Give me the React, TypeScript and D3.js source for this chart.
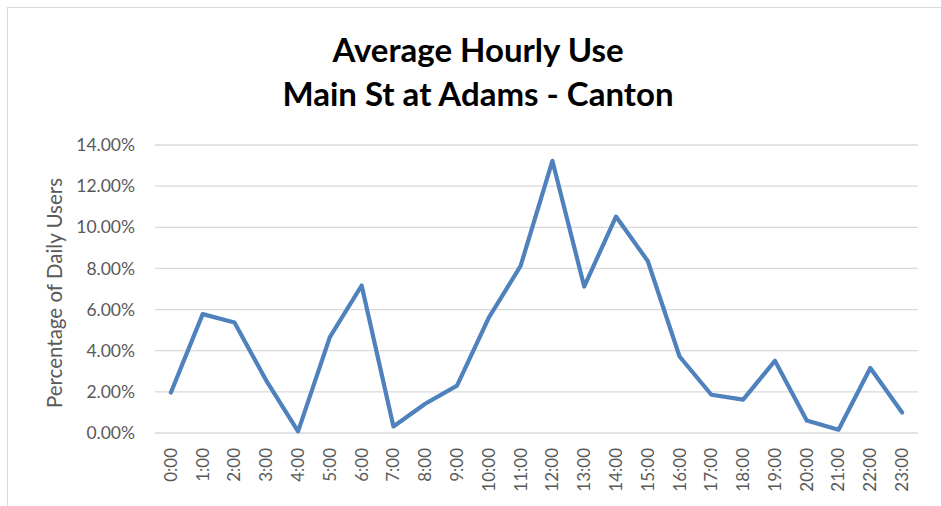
import { useEffect, useRef } from "react";
import * as d3 from "d3";

// hourly share of daily users
const hours = [
  "0:00", "1:00", "2:00", "3:00", "4:00", "5:00", "6:00", "7:00",
  "8:00", "9:00", "10:00", "11:00", "12:00", "13:00", "14:00", "15:00",
  "16:00", "17:00", "18:00", "19:00", "20:00", "21:00", "22:00", "23:00",
];
const share = [
  1.97, 5.78, 5.37, 2.55, 0.08, 4.66, 7.17, 0.32,
  1.42, 2.3, 5.61, 8.12, 13.23, 7.12, 10.52, 8.36,
  3.72, 1.86, 1.62, 3.51, 0.61, 0.16, 3.16, 1.0,
];
const yTicks = [0, 2, 4, 6, 8, 10, 12, 14];
const titleLines = ["Average Hourly Use", "Main St at Adams - Canton"];

const W = 941;
const H = 506;
const font = "Lato, 'Open Sans', sans-serif";

export default function App() {
  const ref = useRef<SVGSVGElement>(null);

  useEffect(() => {
    const svg = d3.select(ref.current);
    svg.selectAll("*").remove();

    const left = 155, right = 918, top = 145, bottom = 433;

    // chart border
    svg.append("rect")
      .attr("x", 7.5).attr("y", 7.5)
      .attr("width", W).attr("height", H)
      .attr("fill", "white")
      .attr("stroke", "#d9d9d9");

    const x = d3.scaleBand().domain(hours).range([left, right]);
    const y = d3.scaleLinear().domain([0, 14]).range([bottom, top]);

    // title
    svg.append("text")
      .attr("text-anchor", "middle")
      .attr("font-family", font)
      .attr("font-weight", "bold")
      .attr("font-size", 33)
      .attr("fill", "#000")
      .selectAll("tspan")
      .data(titleLines)
      .enter().append("tspan")
      .attr("x", 478)
      .attr("y", (d, i) => 62 + i * 44)
      .text((d) => d);

    // grid
    svg.append("g")
      .selectAll("line")
      .data(yTicks)
      .enter().append("line")
      .attr("x1", left).attr("x2", right)
      .attr("y1", (d) => y(d)).attr("y2", (d) => y(d))
      .attr("stroke", "#d9d9d9")
      .attr("stroke-width", 1.3);

    // y tick labels
    svg.append("g")
      .selectAll("text")
      .data(yTicks)
      .enter().append("text")
      .attr("x", 135)
      .attr("y", (d) => y(d))
      .attr("dy", "0.35em")
      .attr("text-anchor", "end")
      .attr("font-family", font)
      .attr("font-size", 17.5)
      .attr("fill", "#595959")
      .text((d) => d.toFixed(2) + "%");

    // x tick labels
    svg.append("g")
      .selectAll("text")
      .data(hours)
      .enter().append("text")
      .attr("transform", (d) => `translate(${x(d)! + x.bandwidth() / 2},448) rotate(-90)`)
      .attr("dy", "0.35em")
      .attr("text-anchor", "end")
      .attr("font-family", font)
      .attr("font-size", 17)
      .attr("fill", "#595959")
      .text((d) => d);

    // y axis title
    svg.append("text")
      .attr("transform", "translate(62,293) rotate(-90)")
      .attr("text-anchor", "middle")
      .attr("font-family", font)
      .attr("font-size", 20.5)
      .attr("fill", "#595959")
      .text("Percentage of Daily Users");

    // line
    svg.append("path")
      .datum(share)
      .attr("fill", "none")
      .attr("stroke", "#4f81bd")
      .attr("stroke-width", 4.2)
      .attr("stroke-linejoin", "round")
      .attr("stroke-linecap", "round")
      .attr("d", d3.line<number>()
        .x((d, i) => x(hours[i])! + x.bandwidth() / 2)
        .y((d) => y(d)));
  }, []);

  return (
    <svg ref={ref} width={W} height={H}
      style={{ position: "absolute", left: 0, top: 0, display: "block" }} />
  );
}
